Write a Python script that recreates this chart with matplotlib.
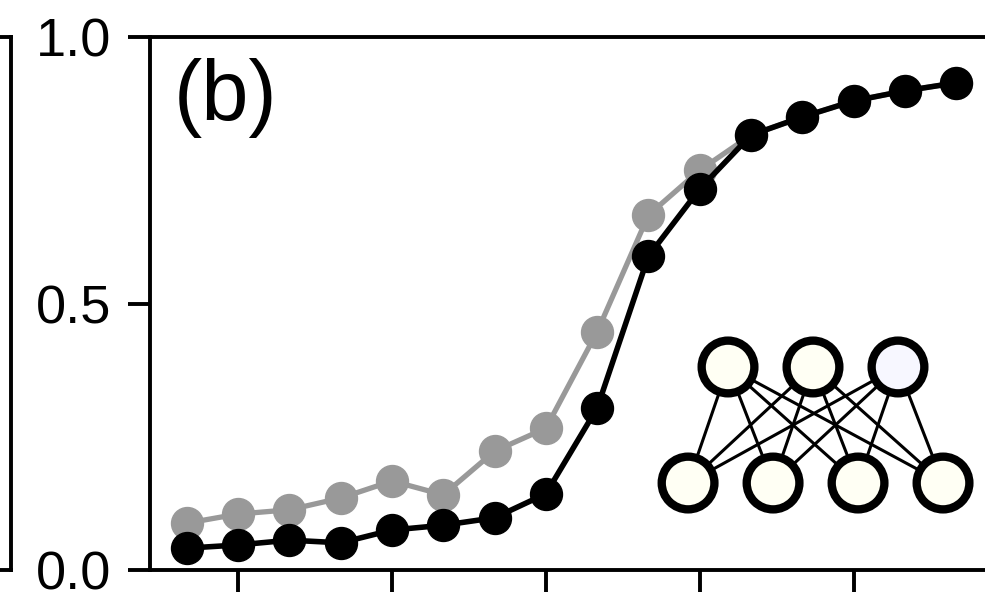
import matplotlib.pyplot as plt
from matplotlib.patches import Circle

plt.rcParams['font.family'] = ['Liberation Sans', 'DejaVu Sans']

# sixteen sweep points, x tick every third point
x = list(range(1, 17))
xticks = [2, 5, 8, 11, 14]

black_y = [0.041, 0.047, 0.056, 0.051, 0.075, 0.084, 0.098, 0.143,
           0.304, 0.589, 0.715, 0.816, 0.850, 0.880, 0.899, 0.914]
gray_y = [0.088, 0.105, 0.113, 0.135, 0.167, 0.141, 0.223, 0.266,
          0.447, 0.666, 0.750, 0.816, 0.850, 0.880, 0.899, 0.914]

yticks = [0.0, 0.5, 1.0]
yticklabels = ['0.0', '0.5', '1.0']

# network sketch: nodes per layer (top, bottom) and fill colours of the top layer
layers = [3, 4]
top_fill = ['#fffff4', '#fffff4', '#f7f7ff']
bottom_fill = '#fffff4'

W, H = 985, 592
fig = plt.figure(figsize=(W / 100, H / 100), dpi=100)

# edge of the neighbouring panel (a)
ax0 = fig.add_axes([-0.3, 22 / H, 0.3 + 11 / W, 533 / H])
ax0.set_xticks([])
ax0.set_yticks([])
for s in ax0.spines.values():
    s.set_linewidth(2.8)

ax = fig.add_axes([150 / W, 22 / H, 860 / W, 533 / H])
ax.plot(x, gray_y, '-o', color='#999999', lw=3.8, ms=23, zorder=2)
ax.plot(x, black_y, '-o', color='black', lw=4.0, ms=23, zorder=3)
ax.set_xlim(x[0] - 0.72, x[-1] + 1.05)
ax.set_ylim(0, 1)
ax.set_xticks(xticks)
ax.set_yticks(yticks)
ax.set_yticklabels(yticklabels)
ax.tick_params(axis='both', direction='out', length=16, width=2.8,
               labelsize=39, pad=12)
ax.tick_params(axis='x', labelbottom=False)
for s in ax.spines.values():
    s.set_linewidth(2.8)
ax.text(0.028, 0.96, '(b)', transform=ax.transAxes, fontsize=61,
        va='top', ha='left')

# inset: fully connected two-layer network
ins = fig.add_axes([650 / W, (H - 520) / H, 330 / W, 190 / H])
ins.set_xlim(-1.918, 1.965)
ins.set_ylim(-0.435, 1.8)
ins.axis('off')
row_y = [1.365, 0.0]
pos = []
for n, yy in zip(layers, row_y):
    pos.append([(i - (n - 1) / 2 + (0.03 if n == 4 else 0), yy) for i in range(n)])
for (xa, ya) in pos[0]:
    for (xb, yb) in pos[1]:
        ins.plot([xa, xb], [ya, yb], color='black', lw=2.2, zorder=1)
r = 0.31
for (xc, yc), fc in zip(pos[0], top_fill):
    ins.add_patch(Circle((xc, yc), r, facecolor=fc, edgecolor='black', lw=6, zorder=2))
for (xc, yc) in pos[1]:
    ins.add_patch(Circle((xc, yc), r, facecolor=bottom_fill, edgecolor='black', lw=6, zorder=2))

fig.savefig('out.png', dpi=100)
